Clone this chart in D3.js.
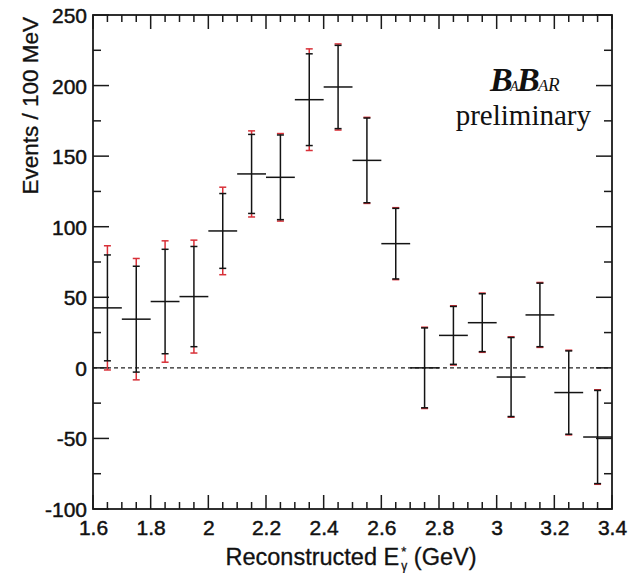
<!DOCTYPE html>
<html>
<head>
<meta charset="utf-8">
<script src="https://cdn.jsdelivr.net/npm/d3@7"></script>
<style>
  html, body { margin: 0; padding: 0; background: #fff; }
  svg { display: block; }
  .tick-label { font-family: "Liberation Sans", Arial, sans-serif; font-size: 21px; fill: #111; stroke: #111; stroke-width: 0.45px; }
  .axis-title { font-family: "Liberation Sans", Arial, sans-serif; font-size: 22.5px; fill: #111; stroke: #111; stroke-width: 0.3px; }
  .logo { font-family: "Liberation Serif", "Times New Roman", serif; fill: #111; }
</style>
</head>
<body>
<svg id="chart" width="629" height="573"></svg>
<script>
// Photon energy spectrum: signal yield per 100 MeV bin
const binCenters = [1.65, 1.75, 1.85, 1.95, 2.05, 2.15, 2.25, 2.35, 2.45,
                    2.55, 2.65, 2.75, 2.85, 2.95, 3.05, 3.15, 3.25, 3.35];
const events     = [42.5, 34.5, 47, 50.5, 97, 137.4, 135, 190, 199,
                    147, 88, 0, 23, 32, -6.5, 37.5, -17.5, -49];
// statistical errors (black bars)
const statErr    = [37.5, 37.5, 37, 35.5, 26.5, 28, 30, 32.5, 29.5,
                    30, 25, 28.3, 20.5, 20.5, 28, 22.5, 29.5, 33];
// total errors (red caps)
const totalErr   = [44, 43, 43, 40, 31, 30.5, 31, 36, 30.5,
                    30.5, 25.5, 28.8, 21, 21, 28.5, 23, 30, 33.5];
const binWidth = 0.1;

const xTickValues = [1.6, 1.8, 2.0, 2.2, 2.4, 2.6, 2.8, 3.0, 3.2, 3.4];
const yTickValues = [-100, -50, 0, 50, 100, 150, 200, 250];

const svg = d3.select("#chart");
const plotLeft = 93, plotRight = 612, plotTop = 15, plotBottom = 509;

const x = d3.scaleLinear().domain([1.6, 3.4]).range([plotLeft, plotRight]);
const y = d3.scaleLinear().domain([-100, 250]).range([plotBottom, plotTop]);

const axisColor = "#1a1a1a";
const g = svg.append("g");

// zero reference line
g.append("line")
  .attr("x1", x(1.6)).attr("x2", x(3.4))
  .attr("y1", y(0)).attr("y2", y(0))
  .attr("stroke", "#222").attr("stroke-width", 1.2)
  .attr("stroke-dasharray", "4,3");

// frame ticks: major and minor on all four sides, pointing inward
const xMinor = d3.range(1.6, 3.4001, 0.05).map(v => +v.toFixed(2));
const yMinor = d3.range(-100, 250.001, 25);
const isXMajor = v => xTickValues.some(t => Math.abs(t - v) < 1e-6);
const isYMajor = v => yTickValues.includes(v);

const ticks = g.append("g").attr("stroke", axisColor).attr("stroke-width", 1.5);
xMinor.forEach(v => {
  const len = isXMajor(v) ? 14 : 7;
  ticks.append("line").attr("x1", x(v)).attr("x2", x(v)).attr("y1", plotBottom).attr("y2", plotBottom - len);
  ticks.append("line").attr("x1", x(v)).attr("x2", x(v)).attr("y1", plotTop).attr("y2", plotTop + len);
});
yMinor.forEach(v => {
  const len = isYMajor(v) ? 16 : 8;
  ticks.append("line").attr("x1", plotLeft).attr("x2", plotLeft + len).attr("y1", y(v)).attr("y2", y(v));
  ticks.append("line").attr("x1", plotRight).attr("x2", plotRight - len).attr("y1", y(v)).attr("y2", y(v));
});

// frame box
g.append("rect")
  .attr("x", plotLeft).attr("y", plotTop)
  .attr("width", plotRight - plotLeft).attr("height", plotBottom - plotTop)
  .attr("fill", "none").attr("stroke", axisColor).attr("stroke-width", 1.8);

// tick labels via d3 axes (lines hidden, labels kept)
const xAxis = d3.axisBottom(x).tickValues(xTickValues).tickSize(0).tickPadding(0)
  .tickFormat(d3.format("~g"));
const xg = svg.append("g").attr("transform", `translate(0,${plotBottom})`).call(xAxis);
xg.select(".domain").remove();
xg.attr("font-family", null).attr("font-size", null);
xg.selectAll("text").attr("class", "tick-label").attr("dy", null).attr("y", 26);

const yAxis = d3.axisLeft(y).tickValues(yTickValues).tickSize(0).tickPadding(6)
  .tickFormat(d => String(d));
const yg = svg.append("g").attr("transform", `translate(${plotLeft},0)`).call(yAxis);
yg.select(".domain").remove();
yg.attr("font-family", null).attr("font-size", null);
yg.selectAll("text").attr("class", "tick-label").attr("dy", "0.36em");
svg.selectAll(".tick line").remove();

// data points with error bars
const data = binCenters.map((c, i) => ({c, v: events[i], s: statErr[i], t: totalErr[i]}));
const pts = svg.append("g");
const capHalf = 3.5;
const red = "#d83038", black = "#141414";

// total error: red extension beyond the statistical bar, with red caps
const redG = pts.append("g").attr("stroke", red).attr("stroke-width", 1.5);
data.forEach(d => {
  redG.append("line").attr("x1", x(d.c)).attr("x2", x(d.c)).attr("y1", y(d.v + d.t)).attr("y2", y(d.v + d.s));
  redG.append("line").attr("x1", x(d.c)).attr("x2", x(d.c)).attr("y1", y(d.v - d.s)).attr("y2", y(d.v - d.t));
  [d.v + d.t, d.v - d.t].forEach(e => {
    redG.append("line").attr("x1", x(d.c) - capHalf).attr("x2", x(d.c) + capHalf).attr("y1", y(e)).attr("y2", y(e));
  });
});

// statistical error and bin width: black cross and caps
const blkG = pts.append("g").attr("stroke", black).attr("stroke-width", 1.5);
data.forEach(d => {
  blkG.append("line").attr("x1", x(d.c)).attr("x2", x(d.c)).attr("y1", y(d.v + d.s)).attr("y2", y(d.v - d.s));
  blkG.append("line").attr("x1", x(d.c - binWidth / 2)).attr("x2", x(d.c + binWidth / 2)).attr("y1", y(d.v)).attr("y2", y(d.v));
  [d.v + d.s, d.v - d.s].forEach(e => {
    blkG.append("line").attr("x1", x(d.c) - capHalf).attr("x2", x(d.c) + capHalf).attr("y1", y(e)).attr("y2", y(e));
  });
});

// axis titles
svg.append("text").attr("class", "axis-title")
  .attr("transform", `translate(38,${plotTop + 2}) rotate(-90)`)
  .attr("text-anchor", "end")
  .text("Events / 100 MeV");

const xt = svg.append("text").attr("class", "axis-title")
  .attr("x", 351).attr("y", 565).attr("text-anchor", "middle")
  .style("font-size", "23.5px");
xt.append("tspan").text("Reconstructed E");
xt.append("tspan").attr("font-size", "13px").style("font-size", "13px").attr("dx", 2).attr("dy", -9).text("*");
xt.append("tspan").style("font-size", "12px").attr("dx", -5).attr("dy", 14).text("\u03b3");
xt.append("tspan").attr("dy", -5).text("  (GeV)");

// experiment logo
const logo = svg.append("text").attr("class", "logo")
  .attr("y", 91).attr("font-style", "italic");
logo.append("tspan").attr("x", 490).attr("font-size", "34px").attr("font-weight", "bold").text("B");
logo.append("tspan").attr("x", 510).attr("font-size", "14px").text("A");
logo.append("tspan").attr("x", 517).attr("font-size", "34px").attr("font-weight", "bold").text("B");
logo.append("tspan").attr("x", 538).attr("font-size", "17px").text("A");
logo.append("tspan").attr("x", 548).attr("font-size", "19px").text("R");

svg.append("text").attr("class", "logo")
  .attr("x", 591).attr("y", 125).attr("text-anchor", "end")
  .attr("font-size", "29px")
  .text("preliminary");
</script>
</body>
</html>
